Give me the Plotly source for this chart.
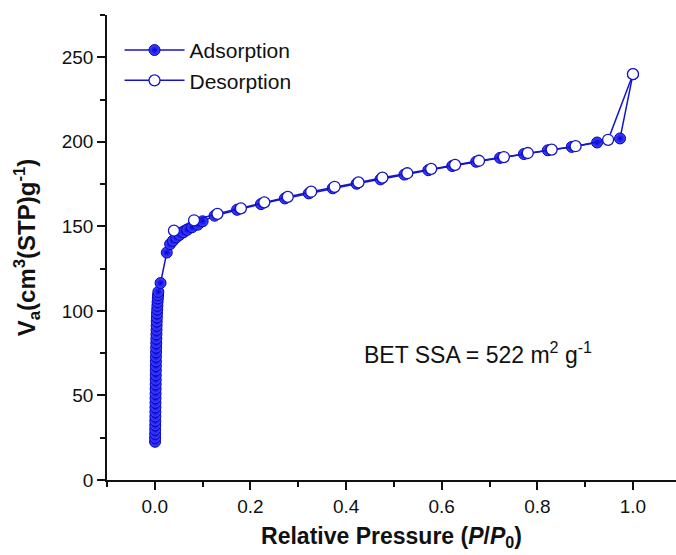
import plotly.graph_objects as go

# Adsorption branch (filled markers)
ads_x = [0.0005, 0.0006, 0.0007, 0.0008, 0.0009, 0.0010, 0.0011, 0.0012, 0.0013, 0.0014,
         0.0015, 0.0016, 0.0017, 0.0018, 0.0019, 0.0020, 0.0021, 0.0022, 0.0023, 0.0024,
         0.0026, 0.0028, 0.0030, 0.0032, 0.0034, 0.0036, 0.0038, 0.0040, 0.0043, 0.0046,
         0.0050, 0.0054, 0.0058, 0.0063, 0.0068, 0.0074, 0.012,
         0.025, 0.032, 0.038, 0.045, 0.052, 0.060, 0.068, 0.078, 0.090, 0.100,
         0.125, 0.172, 0.222, 0.272, 0.322, 0.372, 0.422, 0.472, 0.522, 0.572,
         0.622, 0.672, 0.722, 0.772, 0.822, 0.872, 0.925, 0.973, 1.0]
ads_y = [22.6, 24.9, 27.3, 29.8, 32.4, 35.0, 37.6, 40.3, 43.0, 45.7,
         48.4, 51.1, 53.9, 56.6, 59.3, 62.0, 64.8, 67.5, 70.2, 72.9,
         75.6, 78.3, 81.0, 83.6, 86.2, 88.8, 91.3, 93.8, 96.2, 98.6,
         100.9, 103.1, 105.3, 107.4, 109.4, 111.3, 116.5,
         134.5, 139.5, 141.5, 143.5, 145.0, 146.5, 148.0, 149.5, 151.0, 153.0,
         156.3, 159.8, 163.2, 166.5, 169.5, 172.5, 175.2, 177.8, 180.6, 183.2,
         185.7, 188.2, 190.5, 192.8, 195.0, 197.0, 199.6, 202.0, 240.0]

# Desorption branch (open markers)
des_x = [1.0, 0.948, 0.880, 0.830, 0.780, 0.730, 0.678, 0.628, 0.578, 0.528,
         0.476, 0.426, 0.376, 0.327, 0.278, 0.229, 0.180, 0.131, 0.082, 0.040]
des_y = [240.0, 201.2, 197.4, 195.4, 193.4, 191.0, 188.8, 186.4, 184.0, 181.4,
         178.8, 176.0, 173.4, 170.5, 167.4, 164.2, 160.6, 157.4, 153.6, 147.5]

x_ticks = [0.0, 0.2, 0.4, 0.6, 0.8, 1.0]
x_tick_labels = ["0.0", "0.2", "0.4", "0.6", "0.8", "1.0"]
y_ticks = [0, 50, 100, 150, 200, 250]

LINE = "#1414c8"
FONT = "Liberation Sans, Arial, sans-serif"

fig = go.Figure()
fig.add_trace(go.Scatter(
    x=ads_x, y=ads_y, mode="lines+markers", name="Adsorption",
    line=dict(color=LINE, width=1.5),
    marker=dict(symbol="circle", size=11, color="#4848ff",
                gradient=dict(type="radial", color="#0000dc"),
                line=dict(color="#0000c0", width=1)),
))
fig.add_trace(go.Scatter(
    x=des_x, y=des_y, mode="lines+markers", name="Desorption",
    line=dict(color=LINE, width=1.5),
    marker=dict(symbol="circle", size=11, color="white",
                line=dict(color="#1414c8", width=1.3)),
))

fig.add_annotation(
    x=0.676, y=75, xref="x", yref="y",
    text="BET SSA = 522 m<sup>2</sup> g<sup>-1</sup>",
    showarrow=False, font=dict(family=FONT, size=23, color="#111"),
    xanchor="center", yanchor="middle",
)

fig.update_layout(
    width=676, height=555,
    margin=dict(l=107, r=0, t=15, b=75),
    paper_bgcolor="white", plot_bgcolor="white",
    font=dict(family=FONT, color="#111"),
    showlegend=True,
    legend=dict(x=0.022, y=0.968, xanchor="left", yanchor="top",
                font=dict(family=FONT, size=21, color="#111"),
                bgcolor="rgba(0,0,0,0)", itemwidth=60, tracegroupgap=0),
    xaxis=dict(
        range=[-0.1, 1.09], tickvals=x_ticks, ticktext=x_tick_labels,
        ticks="outside", ticklen=8, tickwidth=1.5, tickcolor="#111",
        showline=True, linecolor="#111", linewidth=1.5,
        showgrid=False, zeroline=False,
        tickfont=dict(family=FONT, size=19, color="#111"),
        minor=dict(dtick=0.1, tick0=0, ticks="outside", ticklen=5, tickwidth=1.5, tickcolor="#111"),
        title=dict(text="<b>Relative Pressure (<i>P</i>/<i>P</i><sub>0</sub>)</b>",
                   font=dict(family=FONT, size=23, color="#111"), standoff=12),
    ),
    yaxis=dict(
        range=[0, 275], tickvals=y_ticks,
        ticks="outside", ticklen=8, tickwidth=1.5, tickcolor="#111",
        showline=True, linecolor="#111", linewidth=1.5,
        showgrid=False, zeroline=False,
        tickfont=dict(family=FONT, size=19, color="#111"),
        minor=dict(dtick=25, tick0=0, ticks="outside", ticklen=5, tickwidth=1.5, tickcolor="#111"),
        title=dict(text="<b>V<sub>a</sub>(cm<sup>3</sup>(STP)g<sup>-1</sup>)</b>",
                   font=dict(family=FONT, size=24, color="#111"), standoff=19),
    ),
)

fig.write_html("out.html")
